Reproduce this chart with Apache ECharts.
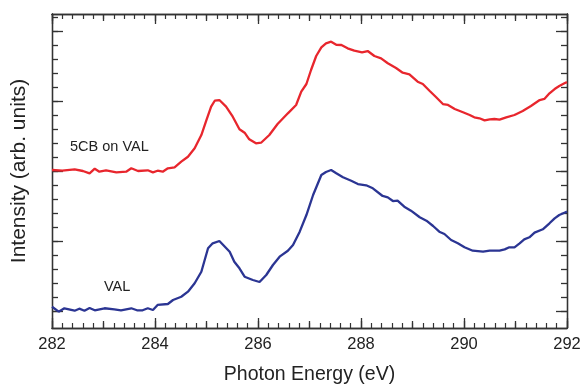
<!DOCTYPE html>
<html>
<head>
<meta charset="utf-8">
<script src="https://cdn.jsdelivr.net/npm/echarts@6/dist/echarts.min.js"></script>
<style>
  html, body { margin: 0; padding: 0; background: #fff; }
  #chart { width: 580px; height: 385px; }
</style>
</head>
<body>
<div id="chart"></div>
<script>
// 5CB on VAL (red)
var redEnergy = [282.00, 282.20, 282.44, 282.60, 282.73, 282.83, 282.92, 283.05, 283.25, 283.44,
  283.54, 283.67, 283.86, 283.96, 284.05, 284.15, 284.25, 284.38, 284.51, 284.64,
  284.77, 284.90, 285.00, 285.09, 285.16, 285.25, 285.38, 285.51, 285.64, 285.74,
  285.83, 285.96, 286.06, 286.22, 286.38, 286.58, 286.74, 286.84, 286.94, 287.03,
  287.13, 287.23, 287.32, 287.42, 287.52, 287.62, 287.74, 287.87, 288.02, 288.13,
  288.26, 288.39, 288.52, 288.68, 288.81, 288.94, 289.10, 289.20, 289.33, 289.46,
  289.59, 289.69, 289.82, 289.98, 290.11, 290.20, 290.30, 290.40, 290.50, 290.59,
  290.69, 290.82, 290.98, 291.14, 291.30, 291.47, 291.56, 291.66, 291.76, 291.85,
  291.95, 292.00];
var redIntensity = [2.014, 2.004, 2.024, 2.000, 1.967, 2.033, 1.990, 2.010, 1.981, 1.990,
  2.039, 2.000, 2.010, 1.981, 2.004, 1.990, 2.039, 2.053, 2.133, 2.204,
  2.324, 2.514, 2.729, 2.919, 3.004, 3.014, 2.919, 2.776, 2.596, 2.547,
  2.453, 2.396, 2.404, 2.514, 2.671, 2.824, 2.943, 3.133, 3.243, 3.443,
  3.643, 3.767, 3.824, 3.847, 3.804, 3.800, 3.753, 3.719, 3.696, 3.714,
  3.643, 3.610, 3.539, 3.471, 3.404, 3.381, 3.276, 3.243, 3.147, 3.053,
  2.957, 2.943, 2.886, 2.839, 2.800, 2.767, 2.753, 2.724, 2.739, 2.743,
  2.733, 2.767, 2.800, 2.857, 2.929, 3.014, 3.029, 3.110, 3.171, 3.214,
  3.253, 3.270];

// VAL (blue)
var blueEnergy = [282.00, 282.13, 282.24, 282.44, 282.53, 282.63, 282.73, 282.83, 283.02, 283.21,
  283.34, 283.54, 283.65, 283.76, 283.86, 283.96, 284.05, 284.25, 284.35, 284.51,
  284.64, 284.77, 284.90, 285.03, 285.12, 285.25, 285.45, 285.54, 285.64, 285.74,
  285.90, 286.03, 286.16, 286.29, 286.42, 286.58, 286.68, 286.81, 286.94, 287.07,
  287.23, 287.32, 287.42, 287.52, 287.65, 287.81, 287.94, 288.10, 288.23, 288.42,
  288.52, 288.62, 288.71, 288.84, 288.97, 289.14, 289.27, 289.40, 289.52, 289.62,
  289.75, 289.88, 290.01, 290.17, 290.37, 290.50, 290.69, 290.79, 290.88, 290.98,
  291.08, 291.17, 291.27, 291.37, 291.53, 291.66, 291.76, 291.85, 291.95, 292.00];
var blueIntensity = [0.061, -0.010, 0.039, 0.004, 0.033, 0.004, 0.043, 0.010, 0.039, 0.024,
  0.010, 0.039, 0.010, 0.010, 0.039, 0.014, 0.086, 0.100, 0.157, 0.204,
  0.276, 0.396, 0.561, 0.896, 0.967, 1.000, 0.847, 0.704, 0.610, 0.490,
  0.443, 0.414, 0.514, 0.657, 0.776, 0.861, 0.943, 1.133, 1.371, 1.657,
  1.943, 1.986, 2.014, 1.967, 1.910, 1.861, 1.814, 1.796, 1.753, 1.643,
  1.624, 1.571, 1.576, 1.490, 1.433, 1.339, 1.290, 1.214, 1.133, 1.100,
  1.014, 0.967, 0.910, 0.861, 0.847, 0.861, 0.861, 0.881, 0.910, 0.910,
  0.967, 1.024, 1.053, 1.119, 1.167, 1.253, 1.324, 1.371, 1.404, 1.420];

var yMajorTicks = [0, 1, 2, 3, 4];
var yMinorTicks = [0, 0.2, 0.4, 0.6, 0.8, 1, 1.2, 1.4, 1.6, 1.8, 2, 2.2, 2.4, 2.6, 2.8, 3, 3.2, 3.4, 3.6, 3.8, 4, 4.2];

var font = 'Liberation Sans, Arial, sans-serif';
var axisColor = '#333';

function pairs(xs, ys) {
  var out = [];
  for (var i = 0; i < xs.length; i++) out.push([xs[i], ys[i]]);
  return out;
}

// x軸: 2eV 長い目盛, 1eV 中目盛, 0.2eV 短い目盛
function xAx(pos, interval, len, withLabels, minor) {
  return {
    type: 'value', position: pos, min: 282, max: 292, interval: interval,
    axisLine: { show: true, onZero: false, lineStyle: { color: axisColor, width: 1.3 } },
    axisTick: { show: true, inside: true, length: len, lineStyle: { color: axisColor, width: 1.3 } },
    minorTick: { show: minor, splitNumber: 10, length: 5, lineStyle: { color: axisColor, width: 1.2 } },
    axisLabel: { show: withLabels, color: '#222', fontSize: 16.5, fontFamily: font, margin: 8 },
    splitLine: { show: false },
    minorSplitLine: { show: false }
  };
}

// y軸: 目盛のみ (ラベルなし)
function yAx(pos, ticks, len) {
  return {
    type: 'value', position: pos, min: -0.243, max: 4.243,
    axisLine: { show: true, onZero: false, lineStyle: { color: axisColor, width: 1.3 } },
    axisTick: { show: true, inside: true, length: len, customValues: ticks,
      lineStyle: { color: axisColor, width: 1.3 } },
    axisLabel: { show: false },
    splitLine: { show: false }
  };
}

var myChart = echarts.init(document.getElementById('chart'));

var xAxes = [
  xAx('bottom', 2, 10, true, true),
  xAx('bottom', 1, 7, false, false),
  xAx('top', 2, 10, false, true),
  xAx('top', 1, 7, false, false)
];
xAxes[0].name = 'Photon Energy (eV)';
xAxes[0].nameLocation = 'middle';
xAxes[0].nameGap = 37;
xAxes[0].nameTextStyle = { fontSize: 19.5, color: '#222', fontFamily: font };

var yAxes = [
  yAx('left', yMajorTicks, 11),
  yAx('left', yMinorTicks, 6),
  yAx('right', yMajorTicks, 11),
  yAx('right', yMinorTicks, 6)
];
yAxes[0].name = 'Intensity (arb. units)';
yAxes[0].nameLocation = 'middle';
yAxes[0].nameGap = 22;
yAxes[0].nameTextStyle = { fontSize: 21, color: '#222', fontFamily: font };

var options = {
  animation: false,
  backgroundColor: '#fff',
  grid: { left: 52, right: 13, top: 14, bottom: 57, containLabel: false, outerBoundsMode: 'none' },
  xAxis: xAxes,
  yAxis: yAxes,
  graphic: [
    { type: 'text', left: 70, top: 139, style: { text: '5CB on VAL', fontSize: 14.5, fill: '#222', fontFamily: font } },
    { type: 'text', left: 104, top: 279, style: { text: 'VAL', fontSize: 14.5, fill: '#222', fontFamily: font } }
  ],
  series: [
    {
      name: '5CB on VAL', type: 'line', xAxisIndex: 0, yAxisIndex: 0,
      showSymbol: false, smooth: false,
      lineStyle: { color: '#e8262d', width: 2.3 },
      data: pairs(redEnergy, redIntensity)
    },
    {
      name: 'VAL', type: 'line', xAxisIndex: 0, yAxisIndex: 0,
      showSymbol: false, smooth: false,
      lineStyle: { color: '#2b3593', width: 2.3 },
      data: pairs(blueEnergy, blueIntensity)
    }
  ]
};
myChart.setOption(options);
</script>
</body>
</html>
